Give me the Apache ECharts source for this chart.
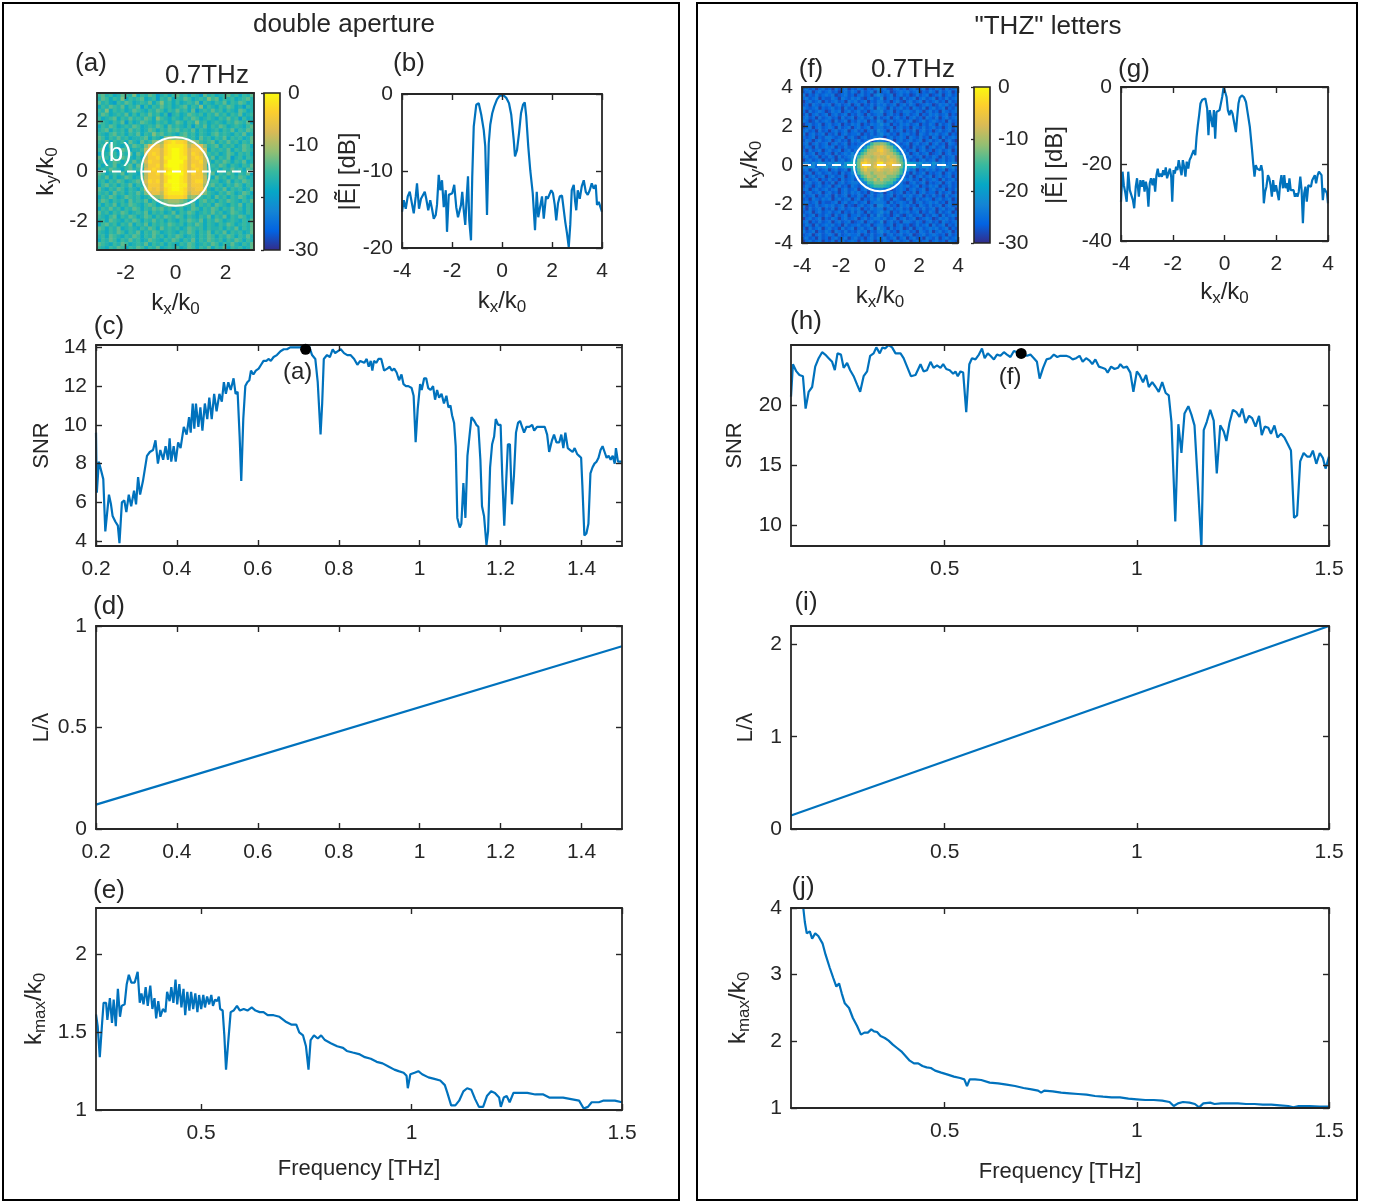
<!DOCTYPE html>
<html>
<head>
<meta charset="utf-8">
<script src="https://cdn.jsdelivr.net/npm/echarts@6/dist/echarts.min.js"></script>
<style>
html, body { margin: 0; padding: 0; background: #fff; }
#chart { width: 1380px; height: 1203px; }
</style>
</head>
<body>
<div id="chart"></div>
<script>
// ---- data ----

// heatmap rows, top row first; each char c -> -parseInt(c,36)*1.5 dB
const DB_STEP = 1.5;
const specA = [
  'a9bacb9ab8cab9adbaca9bacabd9bacba9bacab9',
  'b9acab8caba9cbadab9cab9acbab8a9cabacba9b',
  '9bacdab9acbab9ca8bacacbab9dabcab9cab9acb',
  'cab9ab9cab9dacab9bacba9cab8cabcab9acbdab',
  'ab8cabacb9abcab9acab9bac9dbab9bacabc9acb',
  'b9acbab9cacab9bacaebacb9abacab9bacab9cba',
  'acba9cab9bab9ac8abcabcab9acbabcab9badacb',
  '9abcab9dacb9abcabacb9acab8bacbabcab9ab9c',
  'cab9acbab9acbab9ac9babcadab9cab9acbabca9',
  'ba9cabac9bacb9acab9a9bab9cabcbacab9cab9a',
  'abca9bacab9cab8a9babca9bacabca9babcab9cb',
  '9acab9bacbba9cabc878789bac9bacab9cabacb9',
  'ab9cabac9bc9ba877321223778aba9cab9bacab9',
  'bac9abcab9ab8544621111264458ba9cabacb9ac',
  'a9cabd9acbba6333521001253336cabab9cab9ab',
  'cab9acab9c9b5323521001252347abacb9acabac',
  '9bacab9abcac6332511001153236b9cab9dbacab',
  'bacb9acab9ba5233520000253326acab9acab9cb',
  'acab9cba9c9a6332510001252336bab9acabcab9',
  'cab9abca9bab5323521001253236abacab9bac9a',
  '9acbab9cabca6332510000252337b9cab9acab9c',
  'ab9cacb9acb96333521001253336ac9bacab9acb',
  'bacab9acba9b5232520001253226baacb9cab9ab',
  'ca9bacab9cab6333511001153337a9bacab9acab',
  '9bcab9acabca6343521001254336bcab9cabacb9',
  'abac9bacab9b8544621111264458abcab9acb9ac',
  'cab9acb9abacba887322223878abac9bacab9acb',
  'b9acabac9bab9cab9877789baca9bacab9abcab9',
  'acab9cab9abca9acb98889ab9cabac9abcab9cab',
  'cab9bacab9acab9a9bacbacb9acab9acab9bacab',
  '9bacab9acbab9cabacb9cab9acbab9bacb9abcab',
  'abca9cab9acb9acab9ab9acabcab9cab9cab9acb',
  'bac9abcab9acab9bacabcab9ab9cab9acbabcab9',
  'ca9bacab9cab9cabab9abacab9acabcab9acbab9',
  '9acab9cbabcab9ac9babacb9abacabbacab9cab9',
  'abcab9acab9cab9acbabcab9acab9cab9cabacb9',
  'bac9abcab9acab9bacab9acbacab9acab9acab9b',
  'cab9acab9bacb9abcab9acab9cab9abacab9acab',
  '9abcab9acbab9cabacabcab9acbab9acab9bcab9',
  'abcab9acab9acab9cbabacb9acab9cab9cabacb9'
];
const specF = [
  'hgihjhgihjgihgjhighjhigfhgijhgihjhgihgjhighjgihg',
  'ihgjhgihgihjhgighjgihgjgihgjihghgihgjhighjgihgjh',
  'gjhigihghgjihgihjhgihjgfgihgjhgihjigihgjihgjhgih',
  'hgihgjhiighjghighgijhgihfjhgihjgihgjhgihgjhigihg',
  'jhgihgjhihgihjghgihgjhiggihjhgijhgihgjhihgihjgih',
  'ihjghighgjhgihgjhgjhigighgihgjhgighjihghjighgihj',
  'ghihgjhihgihjgihjhgihgjfghjgihgihjghigjhgihgjhig',
  'hjgihghjighgjhgihgihjhggfihgjhigghighjhgihjghihg',
  'igjhgihgjhgihgjhighjgihggjhgihjhgihgjhighgihgjhi',
  'hgihjgihgihjgihgjhgihgjgihgjhgihjhgihjghigjhgihg',
  'ghjigihghjgihgjhighgjhifgjhgihgihgjihgihghihjgih',
  'jhgihgjhgihgjhighgjhighgfhgjhighgihgjhighjgihgjh',
  'ihgjhgihghjgihgjhgihgjhggihgjhgihjghigihgihjhgig',
  'hgihjgihjhgihgjhgihjhgifghjgihgjhigjhgihjhgihgjh',
  'gjhgihgjhigjhgihhgjhigigfhgihjghgihjghighgihgjhi',
  'hihgjhigghihgjhgijhgihgggjhgihghjghigihjghjgihgh',
  'ighjhgihgjhgihjghgihgjhffhigjhgihgihgjhgihgjhgij',
  'hgjhgihgjhgihgjhihghfa8878afhgihgjhgihgjhgihjghi',
  'ighjgihghgjhigihhghea8654689dhgihjgihgjhgihgjhig',
  'hjgihgjhgihgjhgighda76643568aehgihgjhgihjhgihgjh',
  'gihgjhighjgihghfhea8665545668afhgjhgihgjihgjhgih',
  'hgihgjhighjgihgffa866765664668afhgihgjhighjgihgj',
  'jhgihgjhigjhgihee86456645654579egihjhgihgjhgihgj',
  'gfhfgefgfgefgedcb83246521543468bcdefegfgefgfhgfg',
  'fgefhgfegfegfedcc84246422454568cdecfgefgfhgefgfh',
  'hgjhgihgjhgihgjee9646664566567aefhgjhighgihgjhgi',
  'ihgjhgihgihjgihfga866866676678aghjgihgjhihgjhgih',
  'gjhgihgjhgihgjhghfa8678666888afhigjhgihgjhgihgjh',
  'hgihgjhigihjgihgigea88686889aehghgihjgihghjgihgi',
  'jhgihgjhigjhgihgghgfaa8889aaehgijhgihgjhihgjhgih',
  'ighjhgihgjhgihjghihgfcaaabcfghghgihgjhighgjhigih',
  'hgjhgihgihgjhgihgjhgihgffhgjihghjhgihgjhgihgjhig',
  'jhgihgjhgihjhgighgihjgihgjhgihgjhigjhgihhjgihgjh',
  'gihgjhighjgihgjhighjhgigfihgjhighgihgjhigihjgihg',
  'ihjghighgjhgihgjhgjhighfgihjghijghjgihghjhgihgjh',
  'hgihgjhiihgjhgihgihgjhggghjgihghigjhgihghgihjgih',
  'gjhigihghgihgjhijhgihgjffhgihjghgihjghigihgjhgih',
  'hjgihgjhigjhgihghgjhighggjhgihgihjghigihgjhgihgj',
  'ihgjhgihgihgjhigighjgihgfhgjhighgihgjhighjgihgjh',
  'gihgjhighjgihgjhhgihjgifgihjhgijhgihgjhighjgihgh',
  'jhgihgjhighjhgihgjhgihgghgihgjhgihgjihghjighgihj',
  'hgjhigihgjhgihgjihgjhgihfjhgihjgghighjhgihjghihg',
  'ighjgihghgihjgihhgihgjhggihgjhgihjigihgjgihgjhig',
  'hjgihgjhgihjgihgjhgihgjfghjgihgjigjhgihghgihgjhi',
  'gihgjhighjghigihighgjhigfhgihjghgihjghigjhgihgjh',
  'ihgjhgihghjgihghhgjhigihgjhgihgihgjihgihghihjgih',
  'hgihjgihjhgihgjhgihjhgighgihgjhgjhgihjghigjhgihg',
  'jhgihgjhigjhgihghjgihgjhighjhgihgjhgihgjhgihjghi'
];

// (b) cut through (a) at ky = 0
const cutA = [[-4,-15.3],[-3.93,-13.8],[-3.85,-14.9],[-3.77,-13.3],[-3.69,-12.7],[-3.61,-12.9],[-3.53,-15.5],[-3.45,-13.3],[-3.4,-11.6],[-3.32,-14.9],[-3.24,-13.6],[-3.16,-13.8],[-3.09,-12.7],[-3.03,-13.6],[-2.95,-15.1],[-2.87,-13.8],[-2.8,-14.9],[-2.73,-16.2],[-2.65,-15.7],[-2.6,-14.4],[-2.53,-10.5],[-2.47,-12.5],[-2.4,-11.2],[-2.33,-14.7],[-2.25,-12.5],[-2.2,-17.9],[-2.13,-13.1],[-2.07,-13.1],[-1.99,-12.9],[-1.91,-11.8],[-1.83,-14.7],[-1.76,-16],[-1.69,-16.2],[-1.64,-14.4],[-1.59,-12.7],[-1.53,-15.1],[-1.47,-17],[-1.41,-13.3],[-1.36,-10.7],[-1.31,-16.4],[-1.24,-19],[-1.19,-10.7],[-1.13,-4.2],[-1.03,-1.4],[-0.93,-1.2],[-0.83,-2.7],[-0.73,-4.7],[-0.67,-6.8],[-0.6,-15.7],[-0.53,-6.4],[-0.47,-4],[-0.39,-2.5],[-0.31,-1.6],[-0.2,-0.7],[-0.09,-0.2],[-0.01,0],[0.07,-0.2],[0.17,-0.5],[0.28,-1.2],[0.37,-2.7],[0.47,-6],[0.52,-8.1],[0.6,-7.3],[0.68,-5.1],[0.76,-2.5],[0.84,-1.4],[0.91,-1.1],[0.97,-2.9],[1.05,-6.8],[1.13,-9.9],[1.23,-12.9],[1.32,-17.7],[1.39,-12.7],[1.45,-16],[1.53,-16],[1.6,-13.3],[1.67,-16.2],[1.76,-13.3],[1.83,-13.6],[1.89,-13.1],[1.97,-12.5],[2.04,-12.9],[2.11,-14.4],[2.17,-16.4],[2.24,-14.2],[2.31,-13.3],[2.4,-13.2],[2.47,-13.3],[2.53,-16.6],[2.6,-18.1],[2.67,-19.9],[2.73,-17],[2.79,-12.5],[2.87,-11.8],[2.92,-13.8],[2.97,-15.1],[3.03,-12.5],[3.11,-13.6],[3.19,-12],[3.27,-11.2],[3.35,-12.7],[3.43,-13.1],[3.51,-12.5],[3.59,-11.6],[3.67,-12.3],[3.75,-11.8],[3.8,-14.4],[3.87,-14],[3.93,-14.2],[4,-15.3]];

// (g) cut through (f) at ky = 0
const cutF = [[-4,-29.8],[-3.94,-22],[-3.89,-25.5],[-3.83,-27.6],[-3.78,-29.8],[-3.72,-22],[-3.66,-26.8],[-3.6,-28.1],[-3.54,-29.4],[-3.49,-31.5],[-3.43,-25.9],[-3.38,-23.7],[-3.31,-28.5],[-3.25,-24.2],[-3.2,-25.9],[-3.14,-24.2],[-3.09,-27.2],[-3.04,-24.6],[-2.99,-26.3],[-2.94,-31.1],[-2.89,-25],[-2.84,-23.7],[-2.78,-25.5],[-2.73,-23.7],[-2.68,-27.2],[-2.63,-22.9],[-2.58,-21.2],[-2.53,-23.3],[-2.47,-22.5],[-2.42,-23.3],[-2.37,-21.6],[-2.32,-22.9],[-2.27,-20.9],[-2.22,-23.7],[-2.17,-22.5],[-2.11,-21.2],[-2.06,-23.3],[-2.02,-29.8],[-1.97,-21.6],[-1.92,-22.5],[-1.87,-20.7],[-1.82,-21.6],[-1.77,-19],[-1.71,-21.2],[-1.66,-22.9],[-1.61,-19],[-1.56,-20.7],[-1.51,-23.3],[-1.46,-19.4],[-1.4,-21.2],[-1.35,-19],[-1.29,-18.1],[-1.24,-18.6],[-1.19,-16.4],[-1.13,-17.7],[-1.08,-13],[-1.03,-9.9],[-0.98,-7.3],[-0.93,-4.3],[-0.86,-3.3],[-0.8,-2.8],[-0.74,-3],[-0.67,-5.6],[-0.62,-12.5],[-0.57,-6],[-0.52,-6],[-0.46,-10.4],[-0.41,-6],[-0.36,-13.4],[-0.31,-6.5],[-0.26,-6.5],[-0.19,-6],[-0.14,-5.6],[-0.09,-2.6],[-0.03,0],[0.03,-0.4],[0.08,-2.6],[0.13,-6],[0.19,-7.3],[0.25,-6],[0.31,-6.9],[0.37,-9.1],[0.44,-11.7],[0.49,-7.8],[0.54,-4.3],[0.59,-2.8],[0.67,-2.2],[0.75,-2.6],[0.83,-3.9],[0.9,-6.9],[0.98,-10.4],[1.06,-16],[1.11,-19.9],[1.16,-23.3],[1.21,-20.3],[1.26,-21.2],[1.31,-20.7],[1.37,-21.6],[1.42,-20.3],[1.47,-22],[1.52,-30.2],[1.57,-27.2],[1.62,-25.9],[1.68,-22.9],[1.73,-23.7],[1.78,-25.5],[1.83,-28.5],[1.88,-24.2],[1.93,-27.2],[1.99,-25.5],[2.04,-25.5],[2.1,-29.4],[2.15,-25],[2.2,-22.9],[2.26,-26.3],[2.31,-22.9],[2.36,-26.3],[2.41,-25],[2.46,-27.2],[2.51,-23.7],[2.56,-26.8],[2.62,-26.3],[2.67,-26.8],[2.72,-28.5],[2.77,-27.6],[2.82,-28.5],[2.87,-27.2],[2.93,-23.3],[2.98,-26.8],[3.03,-35.4],[3.08,-27.6],[3.13,-25.9],[3.18,-29.8],[3.24,-25.5],[3.29,-25],[3.34,-25.9],[3.39,-24.2],[3.44,-24.6],[3.49,-22.9],[3.54,-25],[3.6,-22.9],[3.65,-22],[3.7,-21.6],[3.75,-22.9],[3.8,-29.4],[3.85,-26.3],[3.91,-26.3],[3.96,-27.6],[4,-30.2]];

// (c) SNR, double aperture  [THz, SNR]
const snrA = [[0.2,9.6],[0.202,6.5],[0.207,8.1],[0.212,7.7],[0.218,7.2],[0.223,4.5],[0.232,6.4],[0.237,5.9],[0.241,5.3],[0.248,5],[0.254,4.8],[0.258,3.9],[0.264,6],[0.27,6.1],[0.275,5.5],[0.281,6.4],[0.287,5.8],[0.294,6.6],[0.299,5.9],[0.304,7.3],[0.309,6.4],[0.316,7.1],[0.32,7],[0.326,8.4],[0.333,8.6],[0.341,8.7],[0.347,9.2],[0.353,8],[0.359,8.7],[0.366,8.2],[0.372,8.9],[0.378,8.2],[0.382,9.3],[0.386,8.1],[0.392,8.9],[0.397,8.1],[0.403,9.1],[0.409,8.8],[0.417,9.9],[0.424,9.5],[0.43,10.4],[0.434,9.6],[0.439,11.1],[0.443,9.8],[0.447,11.1],[0.453,9.9],[0.458,10.9],[0.463,9.7],[0.469,11.1],[0.475,10.3],[0.48,11.4],[0.486,10.3],[0.492,11.6],[0.498,10.7],[0.505,11.6],[0.511,11.2],[0.516,12.2],[0.521,11.6],[0.527,12.2],[0.533,11.8],[0.54,12.4],[0.545,11.6],[0.55,11.7],[0.555,9.4],[0.559,7.1],[0.564,10.3],[0.569,12],[0.574,12.2],[0.579,12.3],[0.583,12.8],[0.589,12.6],[0.595,12.8],[0.602,12.9],[0.608,13.1],[0.614,13.3],[0.621,13.3],[0.627,13.4],[0.632,13.3],[0.639,13.5],[0.647,13.6],[0.656,13.8],[0.664,13.9],[0.672,13.9],[0.68,14],[0.693,14],[0.705,14],[0.718,14.1],[0.726,14.1],[0.734,13.6],[0.742,13.4],[0.748,12.2],[0.755,9.5],[0.759,11.1],[0.763,13.4],[0.771,13.6],[0.778,13.5],[0.785,13.9],[0.791,13.7],[0.798,13.8],[0.805,13.9],[0.813,13.7],[0.821,13.6],[0.829,13.6],[0.838,13.4],[0.846,13.1],[0.853,13.3],[0.857,13.3],[0.863,13.2],[0.869,13.4],[0.874,13],[0.879,13.3],[0.883,12.8],[0.887,13.3],[0.893,13.2],[0.898,13.4],[0.905,13.4],[0.912,12.8],[0.92,12.9],[0.926,13],[0.931,12.8],[0.937,12.9],[0.943,12.7],[0.949,12.3],[0.955,12.6],[0.96,12.1],[0.966,12],[0.972,12],[0.98,11.9],[0.985,11.5],[0.99,9.1],[0.995,10.8],[1.001,12.1],[1.005,11.8],[1.011,12.4],[1.016,12.4],[1.021,11.9],[1.027,11.8],[1.033,12],[1.038,11.3],[1.043,11.8],[1.048,11.4],[1.054,11.6],[1.06,11.1],[1.066,11.5],[1.071,10.9],[1.076,11],[1.08,10.5],[1.085,10.1],[1.089,8.9],[1.093,5.2],[1.099,4.7],[1.103,4.9],[1.108,7],[1.113,5.2],[1.118,8.4],[1.123,9.4],[1.128,10.4],[1.135,10.2],[1.14,10],[1.145,9.9],[1.15,8.2],[1.154,5.8],[1.159,5.3],[1.165,3.8],[1.169,4.5],[1.174,7.8],[1.179,9],[1.184,9.4],[1.188,10.3],[1.194,10],[1.2,10],[1.204,7.4],[1.209,4.8],[1.214,7.2],[1.218,9],[1.223,9],[1.228,5.9],[1.233,7.4],[1.238,9.6],[1.243,10.1],[1.248,10.2],[1.253,9.9],[1.258,9.6],[1.264,9.9],[1.271,9.9],[1.278,10],[1.283,9.7],[1.29,9.9],[1.296,9.9],[1.302,9.9],[1.309,9.9],[1.315,9.5],[1.32,8.6],[1.327,9.2],[1.332,9.5],[1.338,9.1],[1.345,9.1],[1.35,9.5],[1.355,8.8],[1.36,9.6],[1.366,8.8],[1.372,8.7],[1.378,8.6],[1.383,8.8],[1.389,8.5],[1.394,8.4],[1.399,8.3],[1.402,6.9],[1.407,4.3],[1.412,4.4],[1.417,4.9],[1.422,7.5],[1.427,7.8],[1.432,8],[1.437,8.1],[1.442,8.3],[1.447,8.7],[1.452,8.9],[1.457,8.6],[1.462,8.3],[1.467,8.4],[1.472,8.2],[1.477,8.4],[1.482,8],[1.485,8.8],[1.49,8.1],[1.495,8.1],[1.5,8.1]];

// (h) SNR, "THZ" letters
const snrF = [[0.1,20.7],[0.105,23.4],[0.114,22.8],[0.122,22.5],[0.131,22.4],[0.138,19.7],[0.146,21.1],[0.155,21.5],[0.163,23.2],[0.172,23.9],[0.181,24.4],[0.189,24.2],[0.198,23.9],[0.207,23.6],[0.214,22.9],[0.221,24.3],[0.23,24.2],[0.237,23.1],[0.246,23.5],[0.254,22.9],[0.263,22.4],[0.272,21.7],[0.28,21.1],[0.289,22.4],[0.298,22.8],[0.306,24.1],[0.315,24.3],[0.322,24.8],[0.331,24.3],[0.338,24.8],[0.345,24.7],[0.354,25],[0.363,24.8],[0.372,24.3],[0.385,24.3],[0.393,23.9],[0.402,23.2],[0.412,22.4],[0.424,22.5],[0.437,23.4],[0.445,22.8],[0.454,22.9],[0.463,23.6],[0.471,23.1],[0.48,23.3],[0.489,23.1],[0.496,23.4],[0.504,23],[0.513,22.9],[0.522,22.6],[0.528,22.8],[0.534,22.4],[0.541,22.8],[0.548,22.7],[0.556,19.4],[0.564,23.4],[0.571,23.9],[0.58,23.8],[0.589,24.2],[0.597,24.7],[0.604,23.9],[0.612,24.3],[0.619,24.1],[0.628,23.8],[0.636,24.2],[0.645,24.1],[0.654,24.4],[0.662,24.2],[0.671,24],[0.68,24.5],[0.688,24.4],[0.699,24.4],[0.706,24.2],[0.714,24.1],[0.723,24.2],[0.732,23.9],[0.74,23.6],[0.747,22.2],[0.756,23.1],[0.765,23.8],[0.775,23.9],[0.784,24.2],[0.793,24],[0.801,24.1],[0.81,24.1],[0.816,24.1],[0.825,24],[0.833,23.8],[0.842,23.9],[0.851,24.1],[0.859,23.6],[0.868,23.9],[0.877,23.7],[0.884,23.4],[0.892,23.8],[0.901,23.2],[0.91,23.1],[0.918,23],[0.924,22.7],[0.933,23.2],[0.942,23],[0.951,23.1],[0.957,23.4],[0.965,23.1],[0.974,23.2],[0.983,22.7],[0.991,21.1],[1,22.8],[1.007,22.5],[1.016,21.9],[1.024,22.5],[1.031,21.5],[1.04,21.9],[1.049,21.5],[1.057,21.1],[1.066,21.9],[1.075,21],[1.083,20.8],[1.09,18.6],[1.1,10.3],[1.108,18.4],[1.116,16],[1.124,19.3],[1.134,19.9],[1.142,19.2],[1.15,18.3],[1.159,13.3],[1.168,8.1],[1.174,17.9],[1.182,18.6],[1.191,19.6],[1.2,18.7],[1.208,14.3],[1.217,18.3],[1.226,17.8],[1.233,17],[1.241,18.5],[1.25,19.6],[1.259,19.4],[1.267,19],[1.274,19.7],[1.283,18.5],[1.292,19.1],[1.3,18.9],[1.309,18.2],[1.318,19.1],[1.325,17.5],[1.333,18.2],[1.342,18.1],[1.349,17.6],[1.358,18.3],[1.366,17.3],[1.375,17.6],[1.384,17.3],[1.392,16.8],[1.401,16.2],[1.409,10.6],[1.417,10.8],[1.425,15.3],[1.434,16],[1.443,15.7],[1.451,15.7],[1.458,16.2],[1.467,15.1],[1.476,16],[1.484,15.6],[1.491,14.7],[1.5,15.7]];

// (d), (i) aperture size in wavelengths (straight lines)
const lamA = [[0.2, 0.12], [1.5, 0.9]];
const lamF = [[0.1, 0.147], [1.5, 2.2]];

// (e) kmax/k0, double aperture
const kmaxA = [[0.25,1.615],[0.254,1.54],[0.259,1.34],[0.264,1.54],[0.268,1.69],[0.274,1.69],[0.277,1.58],[0.283,1.72],[0.288,1.56],[0.292,1.71],[0.297,1.54],[0.302,1.78],[0.307,1.6],[0.311,1.67],[0.318,1.68],[0.323,1.81],[0.328,1.87],[0.334,1.82],[0.342,1.82],[0.349,1.89],[0.354,1.69],[0.358,1.75],[0.363,1.68],[0.368,1.79],[0.373,1.67],[0.379,1.8],[0.384,1.65],[0.389,1.72],[0.393,1.59],[0.398,1.7],[0.403,1.6],[0.409,1.65],[0.415,1.63],[0.419,1.76],[0.425,1.7],[0.429,1.79],[0.434,1.69],[0.439,1.84],[0.443,1.68],[0.448,1.81],[0.453,1.66],[0.458,1.78],[0.462,1.61],[0.467,1.76],[0.472,1.64],[0.476,1.76],[0.481,1.65],[0.486,1.75],[0.491,1.63],[0.495,1.74],[0.5,1.65],[0.505,1.74],[0.509,1.66],[0.514,1.73],[0.519,1.68],[0.524,1.74],[0.528,1.67],[0.533,1.71],[0.538,1.7],[0.542,1.73],[0.545,1.65],[0.551,1.64],[0.555,1.48],[0.559,1.26],[0.564,1.43],[0.57,1.63],[0.577,1.64],[0.585,1.67],[0.592,1.64],[0.601,1.65],[0.61,1.64],[0.62,1.66],[0.629,1.64],[0.639,1.63],[0.648,1.63],[0.658,1.61],[0.672,1.61],[0.686,1.6],[0.7,1.57],[0.714,1.55],[0.726,1.55],[0.733,1.5],[0.742,1.48],[0.749,1.41],[0.755,1.26],[0.76,1.45],[0.768,1.48],[0.777,1.46],[0.785,1.48],[0.794,1.45],[0.808,1.43],[0.823,1.41],[0.837,1.4],[0.846,1.38],[0.86,1.37],[0.875,1.36],[0.889,1.34],[0.903,1.33],[0.917,1.31],[0.931,1.3],[0.945,1.28],[0.959,1.26],[0.969,1.25],[0.981,1.24],[0.988,1.22],[0.991,1.14],[0.997,1.23],[1.007,1.24],[1.016,1.25],[1.025,1.23],[1.04,1.21],[1.054,1.2],[1.068,1.19],[1.079,1.16],[1.085,1.11],[1.094,1.03],[1.104,1.03],[1.113,1.06],[1.123,1.12],[1.132,1.14],[1.142,1.13],[1.151,1.07],[1.16,1.02],[1.17,1.02],[1.179,1.09],[1.189,1.12],[1.198,1.11],[1.208,1.08],[1.212,1.02],[1.219,1.08],[1.226,1.09],[1.233,1.05],[1.242,1.11],[1.257,1.11],[1.275,1.11],[1.294,1.1],[1.313,1.1],[1.327,1.08],[1.342,1.08],[1.36,1.08],[1.379,1.07],[1.398,1.06],[1.409,1.01],[1.419,1.02],[1.428,1.05],[1.445,1.05],[1.455,1.06],[1.469,1.06],[1.483,1.06],[1.5,1.05]];

// (j) kmax/k0, "THZ" letters
const kmaxF = [[0.128,4.3],[0.132,4],[0.136,3.79],[0.141,3.62],[0.149,3.65],[0.155,3.54],[0.163,3.62],[0.171,3.58],[0.182,3.47],[0.19,3.3],[0.201,3.1],[0.21,2.95],[0.218,2.82],[0.225,2.87],[0.232,2.72],[0.24,2.57],[0.251,2.5],[0.261,2.35],[0.272,2.23],[0.282,2.1],[0.291,2.13],[0.3,2.13],[0.309,2.18],[0.316,2.15],[0.324,2.14],[0.333,2.08],[0.344,2.05],[0.354,2.01],[0.365,1.95],[0.376,1.9],[0.387,1.85],[0.398,1.78],[0.409,1.71],[0.42,1.67],[0.431,1.67],[0.442,1.63],[0.453,1.61],[0.464,1.6],[0.475,1.56],[0.491,1.53],[0.508,1.5],[0.524,1.47],[0.54,1.45],[0.551,1.43],[0.558,1.33],[0.565,1.43],[0.579,1.43],[0.595,1.42],[0.617,1.38],[0.639,1.37],[0.661,1.35],[0.683,1.33],[0.705,1.3],[0.726,1.28],[0.743,1.26],[0.751,1.23],[0.759,1.26],[0.781,1.25],[0.803,1.23],[0.825,1.22],[0.847,1.21],[0.869,1.2],[0.891,1.18],[0.912,1.17],[0.934,1.16],[0.956,1.16],[0.978,1.14],[1,1.13],[1.022,1.12],[1.044,1.12],[1.066,1.11],[1.085,1.09],[1.096,1.03],[1.107,1.07],[1.12,1.09],[1.137,1.08],[1.151,1.06],[1.162,1.01],[1.173,1.07],[1.191,1.08],[1.202,1.06],[1.219,1.07],[1.241,1.07],[1.263,1.07],[1.284,1.06],[1.306,1.06],[1.328,1.05],[1.35,1.05],[1.372,1.04],[1.394,1.03],[1.407,1.01],[1.421,1.03],[1.449,1.03],[1.476,1.02],[1.5,1.02]];

// selected frequency markers (0.7 THz)
const pickA = [[0.718, 13.9]];
const pickF = [[0.699, 24.3]];

// pupil circle radius (k/k0) drawn on the spectra
const pupilA = [[0, 0, 1.37]];
const pupilF = [[0, 0, 1.34]];

// axis extents and tick labels
const halfA = 3.14, halfF = 4;
const ticksA = [-2, 0, 2];
const ticksK = [-4, -2, 0, 2, 4];
const ticksCb = [-30, -20, -10, 0];
const ticksB = [-20, -10, 0];
const ticksG = [-40, -20, 0];
const ticksFreqA = [0.2, 0.4, 0.6, 0.8, 1, 1.2, 1.4];
const ticksFreq = [0.5, 1, 1.5];
const ticksSnrA = [4, 6, 8, 10, 12, 14];
const ticksSnrF = [10, 15, 20];
const ticksLamA = [0, 0.5, 1];
const ticksLamF = [0, 1, 2];
const ticksKmaxA = [1, 1.5, 2];
const ticksKmaxF = [1, 2, 3, 4];

// ---- styling ----
const FONT = '"Liberation Sans", Arial, Helvetica, sans-serif';
const INK = '#262626';
const BLUE = '#0072BD';
const PARULA = ['#352a87', '#0363e1', '#1485d4', '#06a7c6', '#38b99e', '#92bf73', '#d9ba56', '#fcce2e', '#f9fb0e'];
const RICH = {
  n: { fontSize: 24, fontFamily: FONT, color: INK, lineHeight: 30 },
  s: { fontSize: 17, fontFamily: FONT, color: INK, lineHeight: 14, verticalAlign: 'bottom' }
};
const NM_KX = '{n|k}{s|x}{n|/k}{s|0}';
const NM_KY = '{n|k}{s|y}{n|/k}{s|0}';
const NM_KMAX = '{n|k}{s|max}{n|/k}{s|0}';

const grids = [], xAxes = [], yAxes = [], series = [], visualMaps = [], graphics = [];

function axisCfg(gi, pos, s, main) {
  const horiz = pos === 'bottom' || pos === 'top';
  const a = {
    type: 'value', gridIndex: gi, position: pos, min: s.min, max: s.max, z: 4,
    axisLine: { show: true, onZero: false, lineStyle: { color: INK, width: 1.8 } },
    axisTick: { show: true, inside: true, length: 6, customValues: s.ticks, lineStyle: { color: INK, width: 1.4 } },
    axisLabel: { show: main, customValues: s.ticks, color: INK, fontFamily: FONT, fontSize: 21, margin: horiz ? 13 : 9 },
    splitLine: { show: false }
  };
  if (main && s.name) {
    a.name = s.name;
    a.nameLocation = 'middle';
    a.nameGap = s.gap;
    a.nameTextStyle = { color: INK, fontFamily: FONT, fontSize: s.fs || 22, rich: RICH };
    if (!horiz) a.nameRotate = 90;
  }
  return a;
}

function panel(box, xs, ys) {
  const gi = grids.length;
  grids.push({ left: box[0], top: box[1], width: box[2], height: box[3] });
  const xi = xAxes.length, yi = yAxes.length;
  xAxes.push(axisCfg(gi, 'bottom', xs, true), axisCfg(gi, 'top', xs, false));
  yAxes.push(axisCfg(gi, 'left', ys, true), axisCfg(gi, 'right', ys, false));
  return { xi, yi };
}

function colorbar(box, gap) {
  const gi = grids.length;
  const stops = PARULA.slice().reverse().map((c, i, arr) => ({ offset: i / (arr.length - 1), color: c }));
  grids.push({ left: box[0], top: box[1], width: box[2], height: box[3], show: true, borderColor: INK, borderWidth: 1.6,
    backgroundColor: new echarts.graphic.LinearGradient(0, 0, 0, 1, stops) });
  xAxes.push({ type: 'value', gridIndex: gi, show: false, min: 0, max: 1 });
  yAxes.push({
    type: 'value', gridIndex: gi, position: 'right', min: -30, max: 0, z: 4,
    axisLine: { show: false },
    axisTick: { show: true, inside: true, length: 3, customValues: ticksCb, lineStyle: { color: INK, width: 1.3 } },
    axisLabel: { customValues: ticksCb, color: INK, fontFamily: FONT, fontSize: 21, margin: 8 },
    splitLine: { show: false },
    name: '|Ẽ| [dB]', nameLocation: 'middle', nameGap: gap, nameRotate: 90,
    nameTextStyle: { color: INK, fontFamily: FONT, fontSize: 24 }
  });
}

function line(p, data) {
  series.push({ type: 'line', xAxisIndex: p.xi, yAxisIndex: p.yi, data, symbol: 'none', showSymbol: false,
    clip: true, z: 2, lineStyle: { color: BLUE, width: 2.2 }, itemStyle: { color: BLUE } });
}

function spectrum(p, rows, half) {
  const cell = 2 * half / rows.length;
  const data = [];
  rows.forEach((row, r) => {
    for (let i = 0; i < row.length; i++) {
      data.push([-half + (i + 0.5) * cell, half - (r + 0.5) * cell, -parseInt(row[i], 36) * DB_STEP]);
    }
  });
  const si = series.length;
  series.push({
    type: 'custom', xAxisIndex: p.xi, yAxisIndex: p.yi, data, clip: true, z: 1, silent: true,
    renderItem: (params, api) => {
      const c = api.coord([api.value(0), api.value(1)]);
      const s = api.size([cell, cell]);
      return { type: 'rect', shape: { x: c[0] - s[0] / 2, y: c[1] - s[1] / 2, width: s[0] + 0.6, height: s[1] + 0.6 },
        style: { fill: api.visual('color') } };
    }
  });
  visualMaps.push({ type: 'continuous', show: false, seriesIndex: si, dimension: 2, min: -30, max: 0, inRange: { color: PARULA } });
}

function pupil(p, circ, half) {
  series.push({
    type: 'custom', xAxisIndex: p.xi, yAxisIndex: p.yi, data: circ, clip: true, z: 3, silent: true,
    renderItem: (params, api) => {
      const c = api.coord([api.value(0), api.value(1)]);
      const s = api.size([api.value(2), api.value(2)]);
      return { type: 'circle', shape: { cx: c[0], cy: c[1], r: s[0] }, style: { fill: 'none', stroke: '#fff', lineWidth: 2 } };
    }
  });
  series.push({ type: 'line', xAxisIndex: p.xi, yAxisIndex: p.yi, data: [[-half, 0], [half, 0]], symbol: 'none', z: 3,
    lineStyle: { color: '#fff', width: 2, type: [9, 6] } });
}

function pick(p, pt, txt, dx) {
  series.push({ type: 'scatter', xAxisIndex: p.xi, yAxisIndex: p.yi, data: pt, symbolSize: 11, z: 5,
    itemStyle: { color: '#000', opacity: 1 },
    label: { show: true, formatter: txt, position: 'bottom', distance: 6, offset: [dx, 0], color: INK, opacity: 1,
      fontFamily: FONT, fontSize: 24 } });
}

function text(x, y, str, size, color) {
  graphics.push({ type: 'text', x, y, z: 10, silent: true,
    style: { text: str, fill: color || INK, fontSize: size, fontFamily: FONT, align: 'center', verticalAlign: 'middle' } });
}

// ---- left column: double aperture ----
const pA = panel([97, 93, 157, 157],
  { min: -halfA, max: halfA, ticks: ticksA, name: NM_KX, gap: 38 },
  { min: -halfA, max: halfA, ticks: ticksA, name: NM_KY, gap: 36 });
spectrum(pA, specA, halfA);
pupil(pA, pupilA, halfA);
colorbar([264, 93, 16, 157], 56);

const pB = panel([402, 94, 200, 154],
  { min: -4, max: 4, ticks: ticksK, name: NM_KX, gap: 38 },
  { min: -20, max: 0, ticks: ticksB });
line(pB, cutA);

const pC = panel([96, 345, 526, 201],
  { min: 0.2, max: 1.5, ticks: ticksFreqA },
  { min: 3.75, max: 14.12, ticks: ticksSnrA, name: 'SNR', gap: 43 });
line(pC, snrA);
pick(pC, pickA, '(a)', -8);

const pD = panel([96, 626, 526, 203],
  { min: 0.2, max: 1.5, ticks: ticksFreqA },
  { min: 0, max: 1, ticks: ticksLamA, name: 'L/λ', gap: 43 });
line(pD, lamA);

const pE = panel([96, 908, 526, 202],
  { min: 0.25, max: 1.5, ticks: ticksFreq, name: 'Frequency [THz]', gap: 48 },
  { min: 1, max: 2.3, ticks: ticksKmaxA, name: NM_KMAX, gap: 47 });
line(pE, kmaxA);

// ---- right column: "THZ" letters ----
const pF = panel([802, 87, 156, 156],
  { min: -halfF, max: halfF, ticks: ticksK, name: NM_KX, gap: 38 },
  { min: -halfF, max: halfF, ticks: ticksK, name: NM_KY, gap: 37 });
spectrum(pF, specF, halfF);
pupil(pF, pupilF, halfF);
colorbar([974, 87, 16, 156], 53);

const pG = panel([1121, 87, 207, 154],
  { min: -4, max: 4, ticks: ticksK, name: NM_KX, gap: 36 },
  { min: -40, max: 0, ticks: ticksG });
line(pG, cutF);

const pH = panel([791, 345, 538, 201],
  { min: 0.1, max: 1.5, ticks: ticksFreq },
  { min: 8.25, max: 25, ticks: ticksSnrF, name: 'SNR', gap: 45 });
line(pH, snrF);
pick(pH, pickF, '(f)', -11);

const pI = panel([791, 626, 538, 203],
  { min: 0.1, max: 1.5, ticks: ticksFreq },
  { min: 0, max: 2.2, ticks: ticksLamF, name: 'L/λ', gap: 34 });
line(pI, lamF);

const pJ = panel([791, 908, 538, 200],
  { min: 0.1, max: 1.5, ticks: ticksFreq, name: 'Frequency [THz]', gap: 53 },
  { min: 1, max: 4, ticks: ticksKmaxF, name: NM_KMAX, gap: 38 });
line(pJ, kmaxF);

// ---- frames, titles and panel letters ----
graphics.push({ type: 'rect', shape: { x: 3, y: 3, width: 676, height: 1197 }, style: { fill: 'none', stroke: '#000', lineWidth: 2 }, silent: true });
graphics.push({ type: 'rect', shape: { x: 697, y: 3, width: 660, height: 1197 }, style: { fill: 'none', stroke: '#000', lineWidth: 2 }, silent: true });
text(344, 25, 'double aperture', 26);
text(1048, 27, '"THZ" letters', 26);
text(91, 64, '(a)', 26);
text(207, 76, '0.7THz', 26);
text(409, 64, '(b)', 26);
text(116, 154, '(b)', 26, '#ffffff');
text(109, 327, '(c)', 26);
text(109, 607, '(d)', 26);
text(109, 891, '(e)', 26);
text(811, 70, '(f)', 26);
text(913, 70, '0.7THz', 26);
text(1134, 70, '(g)', 26);
text(806, 322, '(h)', 26);
text(806, 603, '(i)', 26);
text(803, 888, '(j)', 26);

const chart = echarts.init(document.getElementById('chart'));
chart.setOption({
  animation: false,
  backgroundColor: '#fff',
  grid: grids,
  xAxis: xAxes,
  yAxis: yAxes,
  visualMap: visualMaps,
  series,
  graphic: graphics
});
</script>
</body>
</html>
